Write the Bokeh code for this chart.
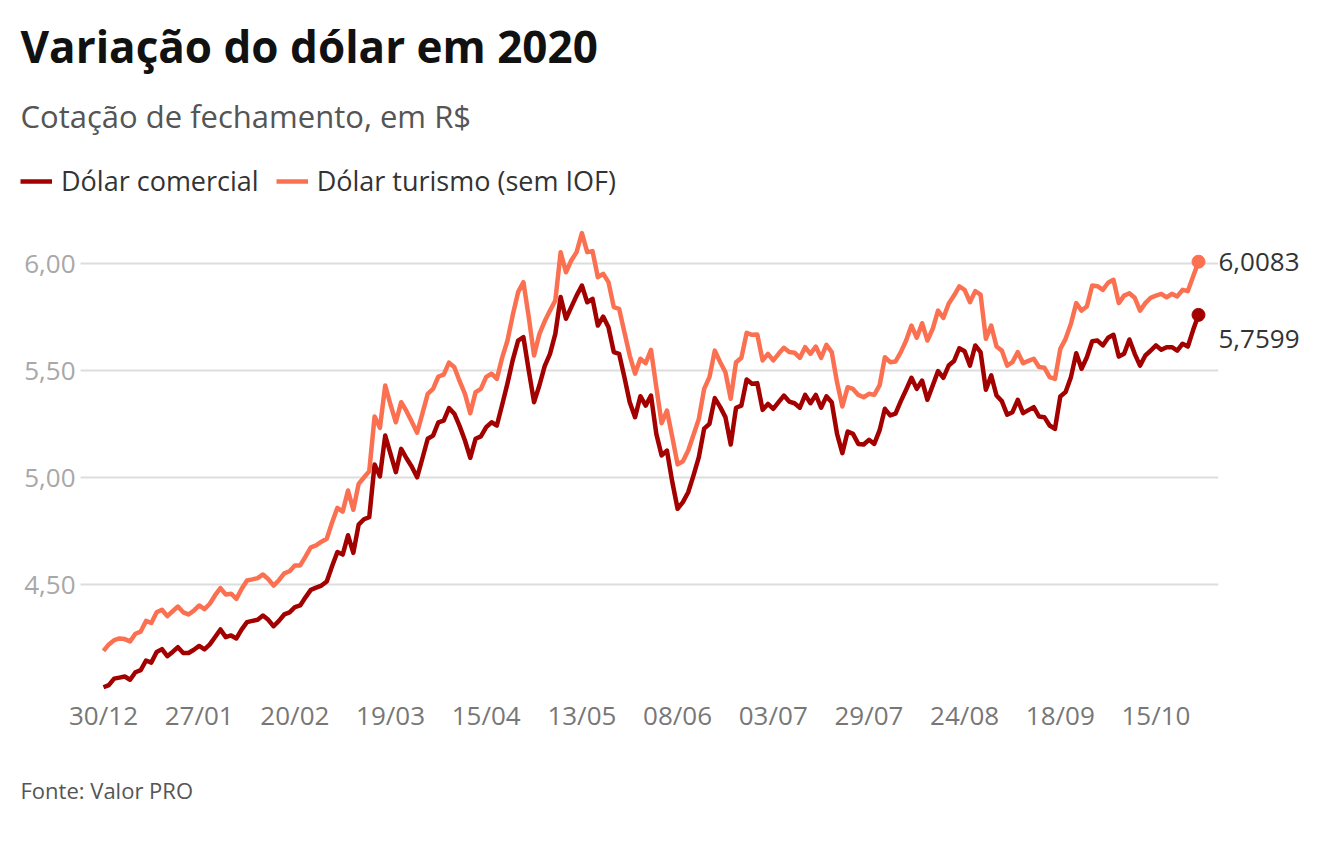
from bokeh.plotting import figure
from bokeh.models import (Range1d, FixedTicker, Legend, LegendItem, Title, LinearAxis)
from bokeh.embed import file_html
from bokeh.resources import INLINE

# ---- data (closing quotes, trading days from 30/12/2019) ----
comercial = [
    4.02, 4.03, 4.06, 4.065, 4.07, 4.055, 4.09, 4.10, 4.145, 4.135,
    4.185, 4.198, 4.165, 4.185, 4.207, 4.18, 4.18, 4.195, 4.213, 4.197,
    4.22, 4.255, 4.29, 4.254, 4.262, 4.248, 4.29, 4.324, 4.33, 4.335,
    4.355, 4.335, 4.305, 4.33, 4.36, 4.37, 4.394, 4.402, 4.44, 4.475,
    4.485, 4.495, 4.514, 4.585, 4.652, 4.64, 4.73, 4.648, 4.78, 4.805,
    4.815, 5.061, 5.005, 5.196, 5.11, 5.025, 5.134, 5.09, 5.05, 5.001,
    5.09, 5.181, 5.196, 5.258, 5.266, 5.324, 5.298, 5.24, 5.173, 5.092,
    5.181, 5.192, 5.235, 5.258, 5.243, 5.34, 5.44, 5.55, 5.64, 5.656,
    5.50, 5.352, 5.43, 5.52, 5.578, 5.671, 5.843, 5.742, 5.796, 5.850,
    5.897, 5.819, 5.835, 5.710, 5.752, 5.702, 5.586, 5.578, 5.469, 5.352,
    5.282, 5.38, 5.336, 5.383, 5.204, 5.103, 5.126, 4.98, 4.854, 4.885,
    4.931, 5.01, 5.095, 5.228, 5.251, 5.371, 5.33, 5.282, 5.154, 5.326,
    5.336, 5.458, 5.438, 5.441, 5.316, 5.344, 5.321, 5.352, 5.383, 5.355,
    5.347, 5.326, 5.386, 5.347, 5.386, 5.326, 5.379, 5.352, 5.204, 5.114,
    5.215, 5.204, 5.157, 5.154, 5.176, 5.157, 5.220, 5.321, 5.290, 5.298,
    5.357, 5.41, 5.466, 5.414, 5.453, 5.363, 5.430, 5.497, 5.466, 5.523,
    5.544, 5.604, 5.590, 5.523, 5.617, 5.586, 5.410, 5.477, 5.383, 5.357,
    5.294, 5.305, 5.363, 5.301, 5.315, 5.329, 5.285, 5.282, 5.243, 5.227,
    5.379, 5.399, 5.469, 5.581, 5.508, 5.562, 5.637, 5.640, 5.617, 5.653,
    5.667, 5.565, 5.578, 5.645, 5.578, 5.523, 5.570, 5.593, 5.617, 5.597,
    5.609, 5.609, 5.593, 5.625, 5.612, 5.69, 5.7599,
]
turismo = [
    4.19, 4.22, 4.24, 4.248, 4.245, 4.234, 4.27, 4.28, 4.33, 4.32,
    4.37, 4.382, 4.352, 4.375, 4.397, 4.37, 4.36, 4.378, 4.402, 4.385,
    4.41, 4.45, 4.483, 4.453, 4.457, 4.433, 4.48, 4.519, 4.524, 4.53,
    4.547, 4.525, 4.495, 4.52, 4.552, 4.562, 4.589, 4.589, 4.63, 4.674,
    4.683, 4.70, 4.714, 4.79, 4.858, 4.841, 4.939, 4.849, 4.97, 5.00,
    5.03, 5.285, 5.232, 5.43, 5.34, 5.258, 5.352, 5.31, 5.26, 5.209,
    5.30, 5.391, 5.414, 5.472, 5.481, 5.537, 5.515, 5.45, 5.391, 5.30,
    5.399, 5.414, 5.47, 5.485, 5.461, 5.56, 5.64, 5.76, 5.866, 5.913,
    5.75, 5.570, 5.67, 5.73, 5.78, 5.827, 6.053, 5.959, 6.014, 6.053,
    6.142, 6.053, 6.058, 5.936, 5.952, 5.913, 5.796, 5.788, 5.679, 5.570,
    5.485, 5.555, 5.534, 5.597, 5.422, 5.254, 5.313, 5.19, 5.061, 5.076,
    5.126, 5.20, 5.274, 5.414, 5.469, 5.593, 5.54, 5.492, 5.368, 5.539,
    5.559, 5.676, 5.667, 5.668, 5.547, 5.578, 5.547, 5.578, 5.606, 5.586,
    5.583, 5.559, 5.609, 5.578, 5.612, 5.559, 5.620, 5.586, 5.445, 5.332,
    5.422, 5.414, 5.386, 5.375, 5.391, 5.386, 5.430, 5.562, 5.539, 5.542,
    5.586, 5.64, 5.710, 5.653, 5.721, 5.640, 5.695, 5.780, 5.746, 5.812,
    5.850, 5.893, 5.877, 5.819, 5.871, 5.855, 5.648, 5.710, 5.612, 5.593,
    5.523, 5.539, 5.586, 5.534, 5.545, 5.555, 5.516, 5.513, 5.469, 5.461,
    5.601, 5.648, 5.718, 5.815, 5.780, 5.799, 5.897, 5.894, 5.877, 5.910,
    5.924, 5.815, 5.850, 5.861, 5.840, 5.780, 5.815, 5.840, 5.850, 5.858,
    5.842, 5.858, 5.846, 5.877, 5.871, 5.94, 6.0083,
]
x_tick_labels = ["30/12", "27/01", "20/02", "19/03", "15/04", "13/05",
                 "08/06", "03/07", "29/07", "24/08", "18/09", "15/10"]
tick_step = 18
y_ticks = [4.5, 5.0, 5.5, 6.0]
y_tick_labels = ["4,50", "5,00", "5,50", "6,00"]
series_names = ["Dólar comercial", "Dólar turismo (sem IOF)"]

title_text = "Variação do dólar em 2020"
subtitle_text = "Cotação de fechamento, em R$"
source_text = "Fonte: Valor PRO"

# ---- styles / geometry (page px) ----
FONT = "Open Sans"
C_COM = "#a30000"
C_TUR = "#fb7050"
LW = 4.5
W, H = 1324, 844
FL, FR, FT, FB = 20, 1218, 150, 695   # frame
GRID_X0 = 80                          # where grid lines start
X0_PX, XN_PX = 103, 1198              # first / last point
Y6_PX, PX_PER_UNIT = 263, 214         # 6.00 line and scale
LEGEND_BOTTOM = 199

n = len(comercial)
last = n - 1
px_per_idx = (XN_PX - X0_PX) / last
x_start = -(X0_PX - FL) / px_per_idx
x_end = last + (FR - XN_PX) / px_per_idx
y_end = 6 + (Y6_PX - FT) / PX_PER_UNIT
y_start = 6 - (FB - Y6_PX) / PX_PER_UNIT

p = figure(width=W, height=H, output_backend="svg", toolbar_location=None,
           x_range=Range1d(x_start, x_end), y_range=Range1d(y_start, y_end),
           min_border_left=FL, min_border_right=W - FR,
           min_border_top=FT, min_border_bottom=H - FB,
           title=title_text)
p.outline_line_color = None
p.background_fill_color = "white"
p.border_fill_color = "white"

# grid lines (from the y tick values)
gx0 = x_start + (GRID_X0 - FL) / px_per_idx
p.segment(x0=[gx0] * len(y_ticks), y0=y_ticks, x1=[x_end] * len(y_ticks), y1=y_ticks,
          line_color="#dddddd", line_width=2, level="underlay")
p.xgrid.grid_line_color = None
p.ygrid.grid_line_color = None

idx = list(range(n))
r_com = p.line(idx, comercial, line_color=C_COM, line_width=LW, line_join="round")
r_tur = p.line(idx, turismo, line_color=C_TUR, line_width=LW, line_join="round")
p.scatter([last], [comercial[-1]], size=13, color=C_COM)
p.scatter([last], [turismo[-1]], size=13, color=C_TUR)

# x axis
xt = list(range(0, len(x_tick_labels) * tick_step, tick_step))
p.xaxis.ticker = FixedTicker(ticks=xt)
p.xaxis.major_label_overrides = {t: l for t, l in zip(xt, x_tick_labels)}
p.xaxis.axis_line_color = None
p.xaxis.major_tick_line_color = None
p.xaxis.minor_tick_line_color = None
p.xaxis.major_tick_out = 0
p.xaxis.major_tick_in = 0
p.xaxis.major_label_text_font = FONT
p.xaxis.major_label_text_font_size = "26px"
p.xaxis.major_label_text_color = "#777777"
p.xaxis.major_label_standoff = 1

# y axis: labels drawn just left of the grid lines
p.yaxis.ticker = FixedTicker(ticks=y_ticks)
p.yaxis.major_label_overrides = {t: l for t, l in zip(y_ticks, y_tick_labels)}
p.yaxis.axis_line_color = None
p.yaxis.major_tick_line_color = None
p.yaxis.minor_tick_line_color = None
p.yaxis.major_tick_out = 0
p.yaxis.major_tick_in = 0
p.yaxis.major_label_text_font = FONT
p.yaxis.major_label_text_font_size = "26px"
p.yaxis.major_label_text_color = "#a8a8a8"
p.yaxis.major_label_standoff = FL - (GRID_X0 - 5)


def fmt(v):
    return f"{v:.4f}".replace(".", ",")


# end value labels via a right axis
label_drop = 24 / PX_PER_UNIT
end_ticks = [turismo[-1], comercial[-1] - label_drop]
end_labels = [fmt(turismo[-1]), fmt(comercial[-1])]
rax = LinearAxis(ticker=FixedTicker(ticks=end_ticks),
                 major_label_overrides={t: l for t, l in zip(end_ticks, end_labels)},
                 axis_line_color=None, major_tick_line_color=None,
                 minor_tick_line_color=None, major_tick_out=0, major_tick_in=0,
                 major_label_text_font=FONT, major_label_text_font_size="26px",
                 major_label_text_color="#333333", major_label_standoff=0)
p.add_layout(rax, "right")

# legend inside the (tall) frame, top-left
legend = Legend(items=[LegendItem(label=series_names[0], renderers=[r_com]),
                       LegendItem(label=series_names[1], renderers=[r_tur])],
                orientation="horizontal", location=(0, FB - LEGEND_BOTTOM),
                label_text_font=FONT, label_text_font_size="27px",
                label_text_color="#333333", glyph_width=32, glyph_height=26,
                label_height=26, label_standoff=9, spacing=17, padding=0, margin=0,
                border_line_color=None, background_fill_alpha=0)
p.add_layout(legend, "center")

# main title (figure title, outermost) and subtitle (nearest the frame)
p.title.text_font = FONT
p.title.text_font_size = "44px"
p.title.text_font_style = "bold"
p.title.text_color = "#111111"
p.title.align = "left"
p.title.offset = 0
p.title.standoff = 7
p.add_layout(Title(text=subtitle_text, text_font=FONT, text_font_size="31px",
                   text_font_style="normal", text_color="#555555", align="left",
                   offset=0, standoff=27), "above")

# source note
p.add_layout(Title(text=source_text, text_font=FONT, text_font_size="22px",
                   text_font_style="normal", text_color="#555555", align="left",
                   offset=0, standoff=75), "below")

open("out.html", "w").write(file_html(p, INLINE))
